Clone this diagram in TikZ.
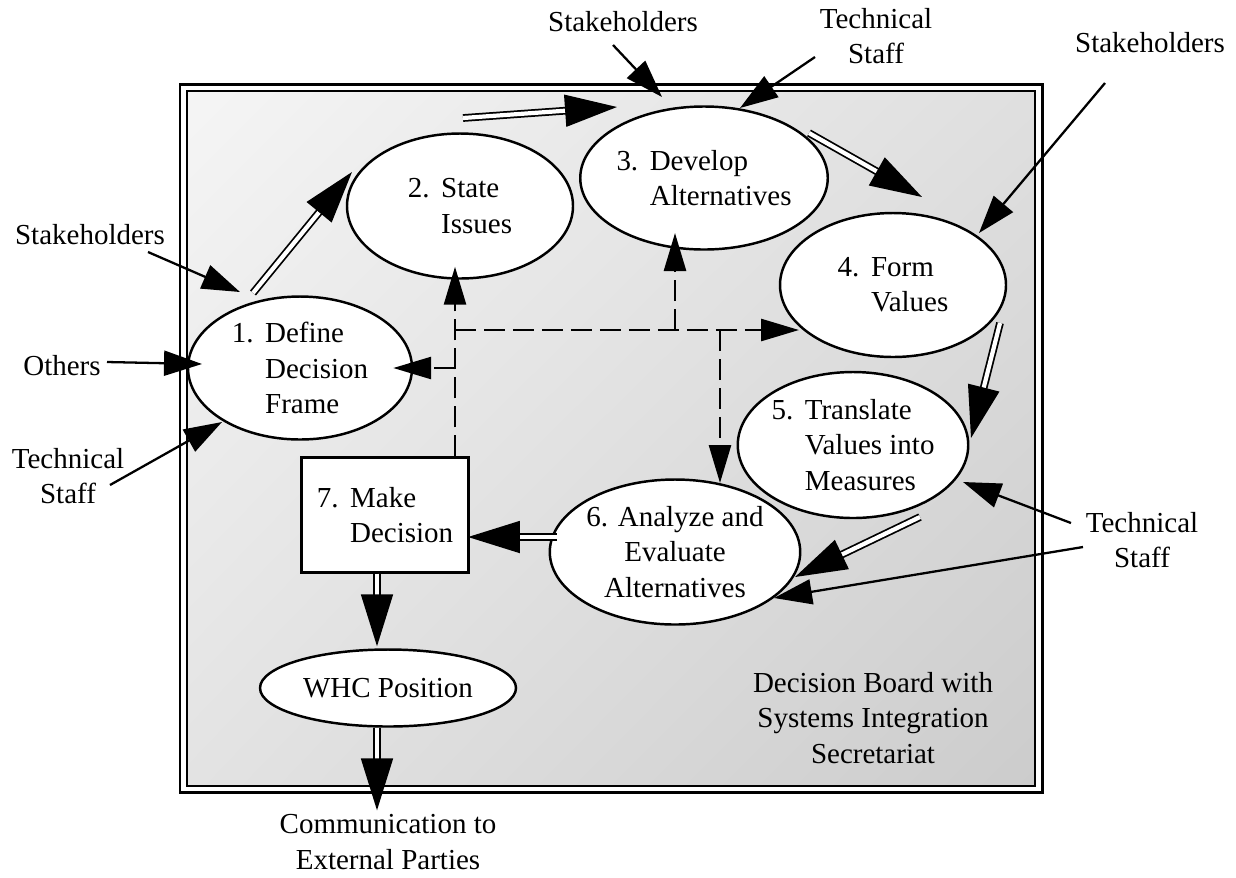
\documentclass[tikz,border=0pt]{standalone}
\usepackage{fontspec}
\setmainfont{Liberation Serif}
\usetikzlibrary{arrows.meta,shapes.geometric,calc,shadings}
\newlength{\px}\setlength{\px}{0.02cm}
\tikzset{
	proc/.style = {ellipse, draw=black, line width=1.4pt, fill=white,
		align=left, inner sep=0pt},% step of the process
	decbox/.style = {rectangle, draw=black, line width=1.2pt, fill=white,
		align=left, inner sep=0pt},% decision box
	lbl/.style = {align=center, inner sep=1pt},% outside party
	ext/.style = {line width=1.3pt, -{Triangle[length=0.76cm, width=0.5cm]}},% input
	flow/.style = {double, double distance=2.4pt, line width=1pt,
		-{Triangle[length=1.04cm, width=0.64cm]}},% main flow
	fb/.style = {line width=1.5pt, dash pattern=on 0.42cm off 0.16cm,
		-{Triangle[length=0.76cm, width=0.44cm]}}% feedback
}
\newcommand{\nr}[1]{\makebox[1.15em][l]{#1}}
\newcommand{\ind}{\hspace*{1.15em}}

\begin{document}
\begin{tikzpicture}[x=0.02cm, y=-0.02cm, font=\fontsize{16.5}{20}\selectfont]
\useasboundingbox (0,0) rectangle (1236,877);
% board
\shade[upper left=gray!8, upper right=gray!25, lower left=gray!22, lower right=gray!40]
	(187,91) rectangle (1035,786);
\draw[line width=1.7pt] (180,84) rectangle (1042,792);
\draw[line width=1.1pt] (187,91) rectangle (1035,786);

% steps
\node[proc, minimum width=224\px, minimum height=143\px] (n1) at (300,368)
	{\nr{1.}Define\\\ind Decision\\\ind Frame};
\node[proc, minimum width=226\px, minimum height=145\px] (n2) at (460,206)
	{\nr{2.}State\\\ind Issues};
\node[proc, minimum width=213\px, minimum height=143\px] (n3) at (704,178)
	{\nr{3.}Develop\\\ind Alternatives};
\node[proc, minimum width=226\px, minimum height=144\px] (n4) at (893,285)
	{\nr{4.}Form\\\ind Values};
\node[proc, minimum width=227\px, minimum height=146\px] (n5) at (853,445)
	{\nr{5.}Translate\\\ind Values into\\\ind Measures};
\node[proc, align=center, minimum width=238\px, minimum height=145\px] (n6) at (675,552)
	{6. Analyze and\\Evaluate\\Alternatives};
\node[decbox, minimum width=167\px, minimum height=115\px] (n7) at (385,515)
	{\nr{7.}Make\\\ind Decision};
\node[proc, align=center, minimum width=256\px, minimum height=77\px] (whc) at (388,688)
	{WHC Position};

% outside parties
\node[lbl] (stkA) at (623,22) {Stakeholders};
\node[lbl] (tecA) at (876,36) {Technical\\Staff};
\node[lbl] (stkB) at (1150,43) {Stakeholders};
\node[lbl] (stkC) at (90,235) {Stakeholders};
\node[lbl] (oth) at (62,366) {Others};
\node[lbl] (tecB) at (68,476) {Technical\\Staff};
\node[lbl] (tecC) at (1142,540) {Technical\\Staff};
\node[lbl, inner sep=0pt] (comm) at (388,842) {Communication to\\External Parties};
\node[lbl] (board) at (873,718) {Decision Board with\\Systems Integration\\Secretariat};

% inputs
\draw[ext] ($(stkA.center)+(-10,23)$) -- ($(n3.center)+(-42,-81)$);
\draw[ext] ($(tecA.center)+(-61,21)$) -- ($(n3.center)+(36,-70)$);
\draw[ext] ($(stkB.center)+(-45,40)$) -- ($(n4.center)+(86,-52)$);
\draw[ext] ($(stkC.center)+(58,17)$) -- ($(n1.center)+(-60,-76)$);
\draw[ext] ($(oth.center)+(45,-4)$) -- ($(n1.center)+(-98,-4)$);
\draw[ext] ($(tecB.center)+(42,9)$) -- ($(n1.center)+(-78,54)$);
\draw[ext] ($(tecC.center)+(-71,-17)$) -- ($(n5.center)+(110,37)$);
\draw[ext] ($(tecC.center)+(-59,7)$) -- ($(n6.center)+(99,46)$);

% main flow
\draw[flow] ($(n1.center)+(-47,-75)$) -- ($(n2.center)+(-108,-34)$);
\draw[flow] ($(n2.center)+(3,-88)$) -- ($(n3.center)+(-87,-71)$);
\draw[flow] ($(n3.center)+(105,-45)$) -- ($(n4.center)+(29,-88)$);
\draw[flow] ($(n4.center)+(107,38)$) -- ($(n5.center)+(118,-7)$);
\draw[flow] ($(n5.center)+(67,72)$) -- ($(n6.center)+(120,25)$);
\draw[flow] ($(n6.center)+(-118,-15)$) -- ($(n7.center)+(83,22)$);
\draw[flow] ($(n7.south)+(-8,0)$) -- ($(whc.north)+(-11,-2)$);
\draw[flow] ($(whc.south)+(-11,0)$) -- ($(comm.north)+(-11,-4)$);

% feedback from the decision
\coordinate (fbA) at (455,330);
\draw[fb] (n7.north -| fbA) -- ($(n2.south)+(-5,-13)$);
\draw[fb] ($(fbA)+(0,38)$) -- ($(n1.east)+(-20,0)$);
\draw[fb] (fbA) -- ($(n4.center)+(-94,45)$);
\draw[fb] ($(fbA)+(220,0)$) -- ($(n3.center)+(-29,55)$);
\draw[fb] ($(fbA)+(265,0)$) -- ($(n6.center)+(45,-69)$);
\end{tikzpicture}
\end{document}
